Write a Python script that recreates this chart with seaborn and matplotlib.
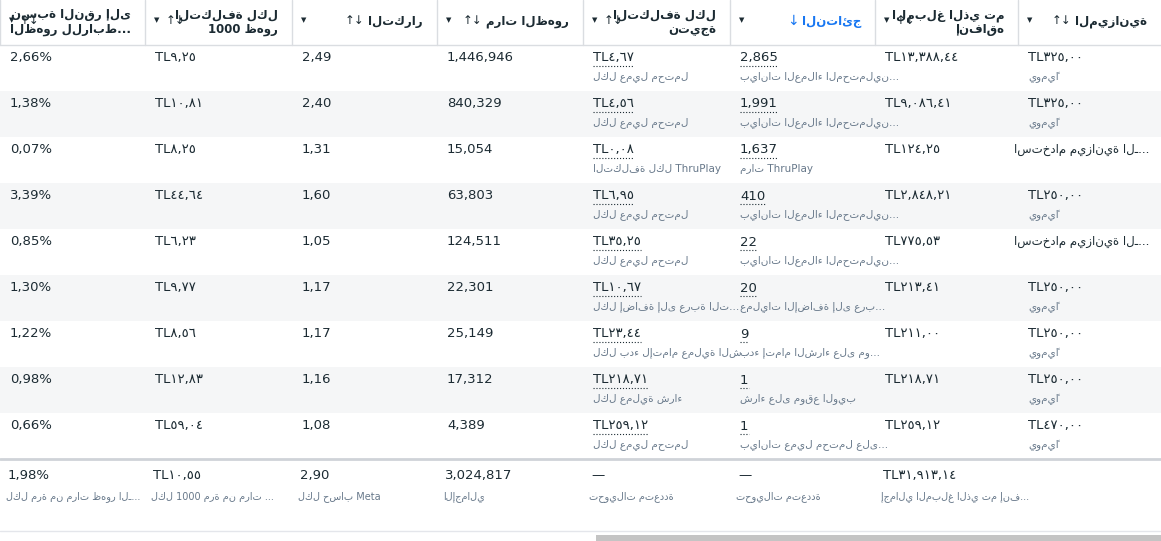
import matplotlib
matplotlib.use('Agg')
import matplotlib.pyplot as plt
import seaborn as sns

sns.set_theme(style='white')
plt.rcParams['font.family'] = ['DejaVu Sans']

# column headers, right to left
headers = ['الميزانية', 'المبلغ الذي تم\nإنفاقه', 'النتائج', 'التكلفة لكل\nنتيجة',
           'مرات الظهور', 'التكرار', 'التكلفة لكل\n1000 ظهور', 'نسبة النقر إلى\nالظهور للرابط...']

budget = ['TL٣٢٥,٠٠', 'TL٣٢٥,٠٠', 'استخدام ميزانية الـ...', 'TL٢٥٠,٠٠', 'استخدام ميزانية الـ...',
          'TL٢٥٠,٠٠', 'TL٢٥٠,٠٠', 'TL٢٥٠,٠٠', 'TL٤٧٠,٠٠']
budget_sub = ['يوميًا', 'يوميًا', '', 'يوميًا', '', 'يوميًا', 'يوميًا', 'يوميًا', 'يوميًا']
spent = ['TL١٣,٣٨٨,٤٤', 'TL٩,٠٨٦,٤١', 'TL١٢٤,٢٥', 'TL٢,٨٤٨,٢١', 'TL٧٧٥,٥٣',
         'TL٢١٣,٤١', 'TL٢١١,٠٠', 'TL٢١٨,٧١', 'TL٢٥٩,١٢']
results = ['2,865', '1,991', '1,637', '410', '22', '20', '9', '1', '1']
results_sub = ['بيانات العملاء المحتملين...', 'بيانات العملاء المحتملين...', 'مرات ThruPlay',
               'بيانات العملاء المحتملين...', 'بيانات العملاء المحتملين...', 'عمليات الإضافة إلى عرب...',
               'بدء إتمام الشراء على مو...', 'شراء على موقع الويب', 'بيانات عميل محتمل على...']
cpr = ['TL٤,٦٧', 'TL٤,٥٦', 'TL٠,٠٨', 'TL٦,٩٥', 'TL٣٥,٢٥', 'TL١٠,٦٧', 'TL٢٣,٤٤', 'TL٢١٨,٧١', 'TL٢٥٩,١٢']
cpr_sub = ['لكل عميل محتمل', 'لكل عميل محتمل', 'التكلفة لكل ThruPlay', 'لكل عميل محتمل',
           'لكل عميل محتمل', 'لكل إضافة إلى عربة الت...', 'لكل بدء لإتمام عملية الش...',
           'لكل عملية شراء', 'لكل عميل محتمل']
impressions = ['1,446,946', '840,329', '15,054', '63,803', '124,511', '22,301', '25,149', '17,312', '4,389']
frequency = ['2,49', '2,40', '1,31', '1,60', '1,05', '1,17', '1,17', '1,16', '1,08']
cpm = ['TL٩,٢٥', 'TL١٠,٨١', 'TL٨,٢٥', 'TL٤٤,٦٤', 'TL٦,٢٣', 'TL٩,٧٧', 'TL٨,٥٦', 'TL١٢,٨٣', 'TL٥٩,٠٤']
ctr = ['2,66%', '1,38%', '0,07%', '3,39%', '0,85%', '1,30%', '1,22%', '0,98%', '0,66%']

totals = ['', 'TL٣١,٩١٣,١٤', '—', '—', '3,024,817', '2,90', 'TL١٠,٥٥', '1,98%']
totals_sub = ['', 'إجمالي المبلغ الذي تم إنف...', 'تحويلات متعددة', 'تحويلات متعددة', 'الإجمالي',
              'لكل حساب Meta', 'لكل 1000 مرة من مرات ...', 'لكل مرة من مرات ظهور الـ...']

# column edges in pixels (right to left)
edges = [1161, 1018, 875, 730, 583, 437, 292, 145, 0]
head_h, row_h = 45, 46
dark, grey, blue = '#1c2b33', '#67788a', '#1877f2'

fig = plt.figure(figsize=(11.61, 5.41), dpi=100)
ax = fig.add_axes([0, 0, 1, 1])
ax.set_xlim(0, 1161)
ax.set_ylim(541, 0)
ax.axis('off')

# header
fig.canvas.draw()
renderer = fig.canvas.get_renderer()
inv = ax.transData.inverted()
for i, h in enumerate(headers):
    r, l = edges[i], edges[i + 1]
    color = blue if i == 2 else dark
    t = ax.text(r - 14, 22, h, ha='right', va='center', fontsize=8.5,
                fontweight='bold', color=color, linespacing=1.1)
    bb = t.get_window_extent(renderer)
    x_left = inv.transform((bb.x0, bb.y0))[0]
    ax.text(l + 12, 20, '▼', ha='center', va='center', fontsize=5, color=dark)
    if i == 2:
        ax.text(x_left - 9, 21, '↓', ha='center', va='center', fontsize=10, color=blue)
    else:
        ax.text(max(x_left - 14, l + 30), 21, '↑↓', ha='center', va='center', fontsize=8.5, color=dark)
    if i < 8:
        ax.plot([l, l], [0, head_h], color='#dadde1', lw=1)
ax.plot([0, 1161], [head_h, head_h], color='#dadde1', lw=1)

# body rows
cols = [budget, spent, results, cpr, impressions, frequency, cpm, ctr]
subs = [budget_sub, None, results_sub, cpr_sub, None, None, None, None]
for k in range(len(results)):
    top = head_h + k * row_h
    if k % 2 == 1:
        ax.add_patch(plt.Rectangle((0, top), 1161, row_h, color='#f5f6f7', lw=0))
    for i, col in enumerate(cols):
        r, l = edges[i], edges[i + 1]
        val = col[k]
        if i == 0 and not val.startswith('TL'):
            ax.text(r - 12, top + 13, val, ha='right', va='center', fontsize=8.5, color=dark)
        else:
            t = ax.text(l + 10, top + 13, val, ha='left', va='center', fontsize=9.5, color=dark)
            if i in (2, 3):
                bb = t.get_window_extent(renderer)
                x1 = inv.transform((bb.x1, bb.y0))[0]
                ax.plot([l + 10, x1], [top + 21, top + 21], color=dark, lw=0.8, ls=':')
        if subs[i] is not None and subs[i][k]:
            ax.text(l + 10, top + 32, subs[i][k], ha='left', va='center', fontsize=7.5, color=grey)

# totals row
t0 = head_h + len(results) * row_h
ax.plot([0, 1161], [t0, t0], color='#cfd3d8', lw=2)
for i in range(1, 8):
    r, l = edges[i], edges[i + 1]
    ax.text(l + 8, t0 + 17, totals[i], ha='left', va='center', fontsize=9.5, color=dark)
    ax.text(l + 6, t0 + 38, totals_sub[i], ha='left', va='center', fontsize=7, color=grey)
ax.plot([0, 1161], [531, 531], color='#e4e6eb', lw=1)
ax.add_patch(plt.Rectangle((596, 535), 565, 6, color='#c4c4c4', lw=0))

fig.savefig('out.png', dpi=100)
